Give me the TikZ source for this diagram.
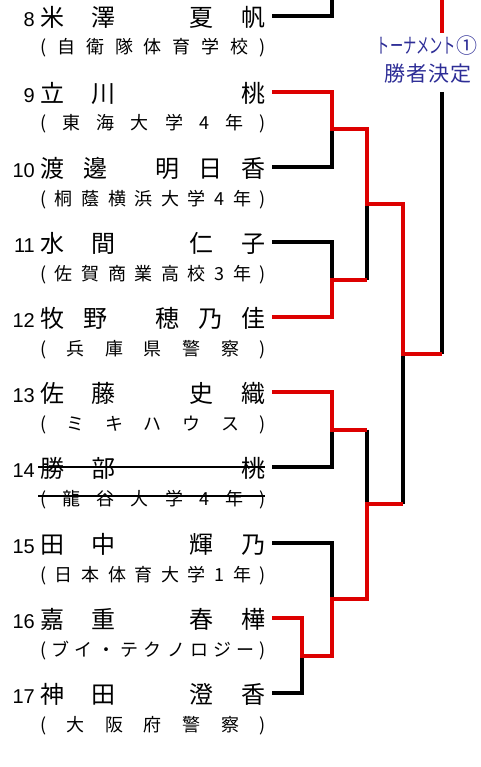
\documentclass[tikz,border=0pt]{standalone}
\usepackage{graphicx}
\usepackage{fontspec}
\setmainfont{Noto Sans CJK JP}
\newfontfamily\numfont{Liberation Sans}
\usetikzlibrary{calc}

\definecolor{winred}{RGB}{221,0,0}
\definecolor{lblblue}{RGB}{45,45,150}

% spread the characters of a word evenly over its box
\def\spreadloop#1{\ifx#1\relax\else\hfill#1\expandafter\spreadloop\fi}
\def\spreadfirst#1{#1\spreadloop}
\def\spreadtext#1{\spreadfirst#1\relax}

% #1 number, #2 line y, #3 name characters (x/char), #4 affiliation
\newcommand\player[4]{%
  \node[numtxt] (n#1) at (35,#2+10.5) {#1};
  \foreach \cx/\ch [count=\k] in {#3}
    \node[nametxt] (p#1-\k) at (\cx,#2+10.5) {\ch};
  \node[affiltxt] (a#1) at (153,#2+38) {\makebox[226pt][s]{\spreadtext{#4}}};
  \coordinate (e#1) at (272,#2);
}

\begin{document}
\begin{tikzpicture}[x=1pt, y=-1pt,
    numtxt/.style={anchor=base east, inner sep=0pt, font=\numfont\fontsize{20}{22}\selectfont},
    nametxt/.style={anchor=base, inner sep=0pt, font=\fontsize{24}{28}\selectfont},
    affiltxt/.style={anchor=base, inner sep=0pt, font=\fontsize{18}{21}\selectfont},
    lbltxt/.style={anchor=base, inner sep=0pt, text=lblblue, font=\fontsize{21}{24}\selectfont},
    bk/.style={line width=4pt, black, line join=miter},
    rd/.style={line width=4pt, winred, line join=miter},
    strike/.style={line width=1.6pt, black}]

\useasboundingbox (0,0) rectangle (480,767);

% ── players ──────────────────────────────────────────────────────
\player{8}{16}{52/米,103/澤,201/夏,253/帆}{(自衛隊体育学校)}
\player{9}{92}{52/立,103/川,253/桃}{(東海大学4年)}
\player{10}{167}{52/渡,95/邊,167/明,210/日,253/香}{(桐蔭横浜大学4年)}
\player{11}{242}{52/水,103/間,201/仁,253/子}{(佐賀商業高校3年)}
\player{12}{317}{52/牧,95/野,167/穂,210/乃,253/佳}{(兵庫県警察)}
\player{13}{392}{52/佐,103/藤,201/史,253/織}{(ミキハウス)}
\player{14}{467}{52/勝,103/部,253/桃}{(龍谷大学4年)}
\player{15}{543}{52/田,103/中,201/輝,253/乃}{(日本体育大学1年)}
\player{16}{618}{52/嘉,103/重,201/春,253/樺}{(ブイ・テクノロジー)}
\player{17}{693}{52/神,103/田,201/澄,253/香}{(大阪府警察)}

% withdrawn
\draw[strike] (38,467) -- (265,467);
\draw[strike] (38,496) -- (265,496);

% ── bracket junctions ────────────────────────────────────────────
\coordinate (t8) at (332,0);
\coordinate (j0) at (302,655.5);
\coordinate (j1a) at (332,129.5);
\coordinate (j1b) at (332,279.5);
\coordinate (j1c) at (332,429.5);
\coordinate (j1d) at (332,599);
\coordinate (j2a) at (367,204.5);
\coordinate (j2b) at (367,504);
\coordinate (j3) at (403,354);
\coordinate (j4) at (442,354);
\coordinate (tb) at (442,92);
\coordinate (tr0) at (442,0);
\coordinate (tr1) at (442,33);

% label in the gap of the final line
\node[lbltxt] (lbl1) at (427,54) {\scalebox{0.63}[1]{トーナメント}①};
\node[lbltxt] (lbl2) at (428,82) {\makebox[88pt][s]{\spreadtext{勝者決定}}};

% losers
\draw[bk] (e8) -| (t8);
\draw[bk] (e10) -| (j1a);
\draw[bk] (e11) -| (j1b);
\draw[bk] (j2a) -- (j1b -| j2a);
\draw[bk] (e14) -| (j1c);
\draw[bk] (j1c -| j2b) -- (j2b);
\draw[bk] (e15) -| (j1d);
\draw[bk] (e17) -| (j0);
\draw[bk] (j3) -- (j2b -| j3);
\draw[bk] (tb) -- (j4);

% winners
\draw[rd] (tr0) -- (tr1);
\draw[rd] (e9) -| (j1a) -| (j2a) -| (j3) -- (j4);
\draw[rd] (e12) -| (j1b) -- (j1b -| j2a);
\draw[rd] (e13) -| (j1c) -- (j1c -| j2b);
\draw[rd] (e16) -| (j0) -| (j1d) -| (j2b) -- (j2b -| j3);

\end{tikzpicture}
\end{document}
